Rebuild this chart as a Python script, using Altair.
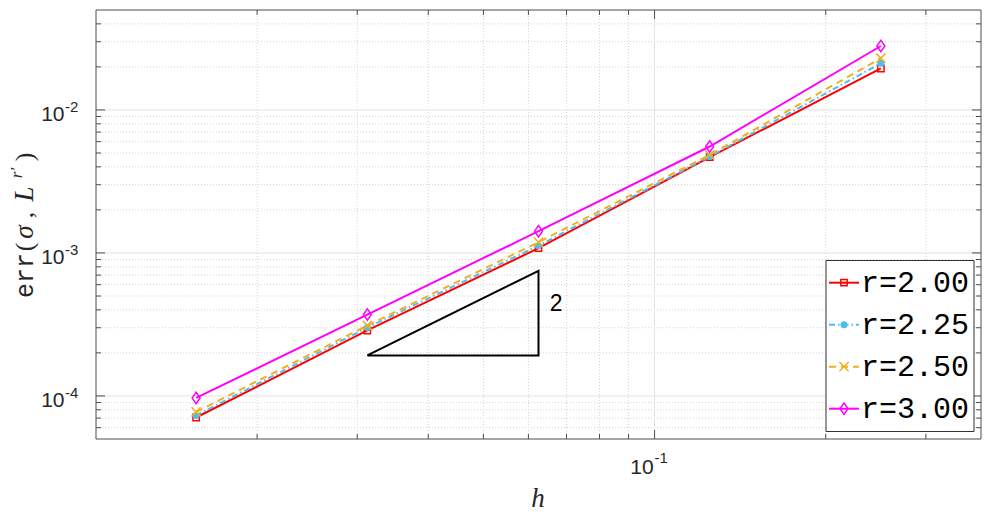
import altair as alt
import pandas as pd

# ---------------- data ----------------
h = [1/64, 1/32, 1/16, 1/8, 1/4]
series_names = ["r=2.00", "r=2.25", "r=2.50", "r=3.00"]
err_r200 = [7.07e-5, 2.87e-4, 1.08e-3, 4.68e-3, 1.95e-2]
err_r225 = [7.30e-5, 3.01e-4, 1.125e-3, 4.72e-3, 2.12e-2]
err_r250 = [7.73e-5, 3.11e-4, 1.19e-3, 4.85e-3, 2.30e-2]
err_r300 = [9.68e-5, 3.71e-4, 1.42e-3, 5.55e-3, 2.80e-2]
series_values = [err_r200, err_r225, err_r250, err_r300]

# slope triangle
tri_h = [1/32, 1/16, 1/16, 1/32]
tri_err = [1.92e-4, 1.92e-4, 7.5e-4, 1.92e-4]
tri_label = "2"
tri_label_h = [0.0671]
tri_label_err = [4.43e-4]

# axes ticks
x_major = [0.1]
x_major_exp = ["-1"]
x_minor = [0.02, 0.03, 0.04, 0.05, 0.06, 0.07, 0.08, 0.09, 0.2, 0.3]
y_major = [1e-4, 1e-3, 1e-2]
y_major_exp = ["-4", "-3", "-2"]
y_minor = [6e-5, 7e-5, 8e-5, 9e-5,
           2e-4, 3e-4, 4e-4, 5e-4, 6e-4, 7e-4, 8e-4, 9e-4,
           2e-3, 3e-3, 4e-3, 5e-3, 6e-3, 7e-3, 8e-3, 9e-3,
           2e-2, 3e-2, 4e-2]
x_limits = [0.0104167, 0.375]
y_limits = [5e-5, 0.05]

# ---------------- styles ----------------
W, H = 885, 429
styles = [
    dict(color="#FF0000", dash=None, shape="square", filled=False, size=40),
    dict(color="#4DBEEE", dash=[6, 3, 1.5, 3], shape="circle", filled=True, size=25),
    dict(color="#EDB120", dash=[7, 5], shape="M-1,-1L1,1M1,-1L-1,1", filled=False, size=85),
    dict(color="#FF00FF", dash=None, shape="M0,-1L0.7,0L0,1L-0.7,0Z", filled=False, size=130),
]
SANS = "Liberation Sans"
MONO = "Liberation Mono"
SERIF = "Liberation Serif"
AX = "#4d4d4d"

xs = alt.Scale(type="log", domain=x_limits, nice=False)
ys = alt.Scale(type="log", domain=y_limits, nice=False)
one = pd.DataFrame({"a": [0]})

layers = []

# grid lines
def vrules(vals, color, dash=None, y0=0, y1=H, width=1):
    kw = dict(color=color, strokeWidth=width)
    if dash:
        kw["strokeDash"] = dash
    return alt.Chart(pd.DataFrame({"v": vals})).mark_rule(**kw).encode(
        x=alt.X("v:Q", scale=xs, axis=None), y=alt.value(y0), y2=alt.value(y1))

def hrules(vals, color, dash=None, x0=0, x1=W, width=1):
    kw = dict(color=color, strokeWidth=width)
    if dash:
        kw["strokeDash"] = dash
    return alt.Chart(pd.DataFrame({"v": vals})).mark_rule(**kw).encode(
        y=alt.Y("v:Q", scale=ys, axis=None), x=alt.value(x0), x2=alt.value(x1))

layers += [
    vrules(x_minor, "#d4d4d4", dash=[1, 2]),
    hrules(y_minor, "#d4d4d4", dash=[1, 2]),
    vrules(x_major, "#e2e2e2"),
    hrules(y_major, "#e2e2e2"),
]

# data series
for name, vals, st in zip(series_names, series_values, styles):
    df = pd.DataFrame({"h": h, "err": vals, "series": name})
    lkw = dict(color=st["color"], strokeWidth=2)
    if st["dash"]:
        lkw["strokeDash"] = st["dash"]
    base = alt.Chart(df).encode(
        x=alt.X("h:Q", scale=xs, axis=None),
        y=alt.Y("err:Q", scale=ys, axis=None),
    )
    layers.append(base.mark_line(**lkw))
    pkw = dict(shape=st["shape"], size=st["size"], filled=st["filled"], opacity=1)
    if st["filled"]:
        pkw["fill"] = st["color"]
        pkw["stroke"] = st["color"]
    else:
        pkw["stroke"] = st["color"]
        pkw["strokeWidth"] = 1.5
    layers.append(base.mark_point(**pkw))

# triangle
tri_df = pd.DataFrame({"h": tri_h, "err": tri_err, "o": list(range(len(tri_h)))})
layers.append(alt.Chart(tri_df).mark_line(color="black", strokeWidth=2).encode(
    x=alt.X("h:Q", scale=xs, axis=None),
    y=alt.Y("err:Q", scale=ys, axis=None),
    order="o:O"))
layers.append(alt.Chart(pd.DataFrame({"h": tri_label_h, "err": tri_label_err, "t": [tri_label]}))
              .mark_text(font=SANS, fontSize=23, align="center", baseline="middle", color="black")
              .encode(x=alt.X("h:Q", scale=xs, axis=None), y=alt.Y("err:Q", scale=ys, axis=None), text="t:N"))

# border
layers.append(alt.Chart(one).mark_rect(fill="white", fillOpacity=0, stroke=AX, strokeWidth=1).encode(
    x=alt.value(0), x2=alt.value(W), y=alt.value(0), y2=alt.value(H)))

# ticks (inside, all four sides)
layers += [
    vrules(x_major, AX, y0=H, y1=H - 9),
    vrules(x_major, AX, y0=0, y1=9),
    vrules(x_minor, AX, y0=H, y1=H - 5),
    vrules(x_minor, AX, y0=0, y1=5),
    hrules(y_major, AX, x0=0, x1=9),
    hrules(y_major, AX, x0=W, x1=W - 9),
    hrules(y_minor, AX, x0=0, x1=5),
    hrules(y_minor, AX, x0=W, x1=W - 5),
]

# tick labels
xl = pd.DataFrame({"v": x_major, "e": x_major_exp, "b": ["10"] * len(x_major)})
layers.append(alt.Chart(xl).mark_text(font=SANS, fontSize=21, align="right", baseline="middle",
                                      color="#262626", dx=-1).encode(
    x=alt.X("v:Q", scale=xs, axis=None), y=alt.value(457.5), text="b:N"))
layers.append(alt.Chart(xl).mark_text(font=SANS, fontSize=15, align="left", baseline="middle",
                                      color="#262626", dx=0).encode(
    x=alt.X("v:Q", scale=xs, axis=None), y=alt.value(448), text="e:N"))
yl = pd.DataFrame({"v": y_major, "e": y_major_exp, "b": ["10"] * len(y_major)})
layers.append(alt.Chart(yl).mark_text(font=SANS, fontSize=21, align="right", baseline="middle",
                                      color="#262626", dy=5.5).encode(
    y=alt.Y("v:Q", scale=ys, axis=None), x=alt.value(-31.5), text="b:N"))
layers.append(alt.Chart(yl).mark_text(font=SANS, fontSize=15, align="left", baseline="middle",
                                      color="#262626", dy=-2.5).encode(
    y=alt.Y("v:Q", scale=ys, axis=None), x=alt.value(-31), text="e:N"))

# axis titles
layers.append(alt.Chart(one).mark_text(font=SERIF, fontStyle="italic", fontSize=27, align="center",
                                       baseline="middle", color="#262626").encode(
    x=alt.value(442), y=alt.value(489), text=alt.value("h")))
title_x = -71
ypieces = [
    ("err", MONO, "normal", 25, "left", 288, title_x),
    ("(", SERIF, "normal", 26, "center", 237, title_x),
    ("σ", SERIF, "italic", 27, "center", 222, title_x),
    (",", SERIF, "normal", 26, "center", 205, title_x),
    ("L", SERIF, "italic", 27, "center", 184, title_x),
    ("r′", SERIF, "italic", 17, "center", 163, title_x - 8),
    (")", SERIF, "normal", 26, "center", 147, title_x),
]
for txt, fnt, sty, fs, al, yy, xx in ypieces:
    layers.append(alt.Chart(one).mark_text(font=fnt, fontStyle=sty, fontSize=fs, align=al,
                                           baseline="middle", angle=270, color="#262626").encode(
        x=alt.value(xx), y=alt.value(yy), text=alt.value(txt)))

# legend
LX0, LX1, LY0, LY1 = 730, 878, 250.5, 421.5
layers.append(alt.Chart(one).mark_rect(fill="white", stroke="#333333", strokeWidth=1).encode(
    x=alt.value(LX0), x2=alt.value(LX1), y=alt.value(LY0), y2=alt.value(LY1)))
for i, (name, st) in enumerate(zip(series_names, styles)):
    yy = 272.7 + 42 * i
    lkw = dict(color=st["color"], strokeWidth=2)
    if st["dash"]:
        lkw["strokeDash"] = st["dash"]
    layers.append(alt.Chart(one).mark_rule(**lkw).encode(
        x=alt.value(733), x2=alt.value(763), y=alt.value(yy)))
    pkw = dict(shape=st["shape"], size=st["size"], filled=st["filled"], opacity=1)
    if st["filled"]:
        pkw["fill"] = st["color"]
        pkw["stroke"] = st["color"]
    else:
        pkw["stroke"] = st["color"]
        pkw["strokeWidth"] = 1.5
    layers.append(alt.Chart(one).mark_point(**pkw).encode(x=alt.value(748), y=alt.value(yy)))
    layers.append(alt.Chart(one).mark_text(font=MONO, fontSize=30, align="left", baseline="middle",
                                           color="black").encode(
        x=alt.value(765), y=alt.value(yy), text=alt.value(name)))

chart = alt.layer(*layers).properties(
    width=W, height=H,
    autosize=alt.AutoSizeParams(type="none"),
    padding={"left": 88, "top": 2, "right": 7, "bottom": 73},
).configure_view(strokeWidth=0)

chart.save("out.html", embed_options={"renderer": "svg", "actions": False})
